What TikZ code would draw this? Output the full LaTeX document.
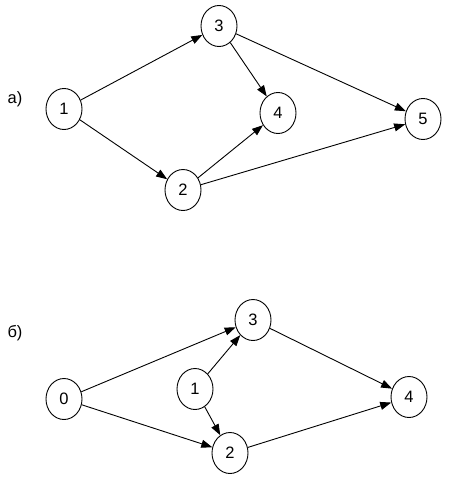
\documentclass[tikz,border=0pt]{standalone}
\usepackage{fontspec}
\setmainfont{Liberation Sans}
\usetikzlibrary{shapes.geometric,arrows.meta}
\begin{document}
\begin{tikzpicture}[x=1pt,y=-1pt,
  vert/.style={draw,ellipse,line width=0.9pt,minimum width=36pt,minimum height=41pt,inner sep=0pt,font=\fontsize{16.5}{16.5}\selectfont},
  edge/.style={line width=0.9pt,-{Triangle[length=11pt,width=8pt]}},
  lbl/.style={font=\fontsize{16.5}{16.5}\selectfont}]
\useasboundingbox (0,0) rectangle (450,479);
% a)
\node[lbl] (la) at (15,99) {а)};
\node[vert] (a1) at (64,109) {1};
\node[vert] (a3) at (219,26) {3};
\node[vert] (a4) at (278,113) {4};
\node[vert] (a5) at (423,119) {5};
\node[vert] (a2) at (183,190) {2};
\draw[edge] (a1) -- (a3);
\draw[edge] (a1) -- (a2);
\draw[edge] (a3) -- (a4);
\draw[edge] (a3) -- (a5);
\draw[edge] (a2) -- (a4);
\draw[edge] (a2) -- (a5);
% b)
\node[lbl] (lb) at (15,333) {б)};
\node[vert] (b0) at (64,399) {0};
\node[vert] (b3) at (253,320) {3};
\node[vert] (b1) at (195,389) {1};
\node[vert] (b4) at (409,397) {4};
\node[vert] (b2) at (230,453) {2};
\draw[edge] (b0) -- (b3);
\draw[edge] (b0) -- (b2);
\draw[edge] (b1) -- (b3);
\draw[edge] (b1) -- (b2);
\draw[edge] (b3) -- (b4);
\draw[edge] (b2) -- (b4);
\end{tikzpicture}
\end{document}
